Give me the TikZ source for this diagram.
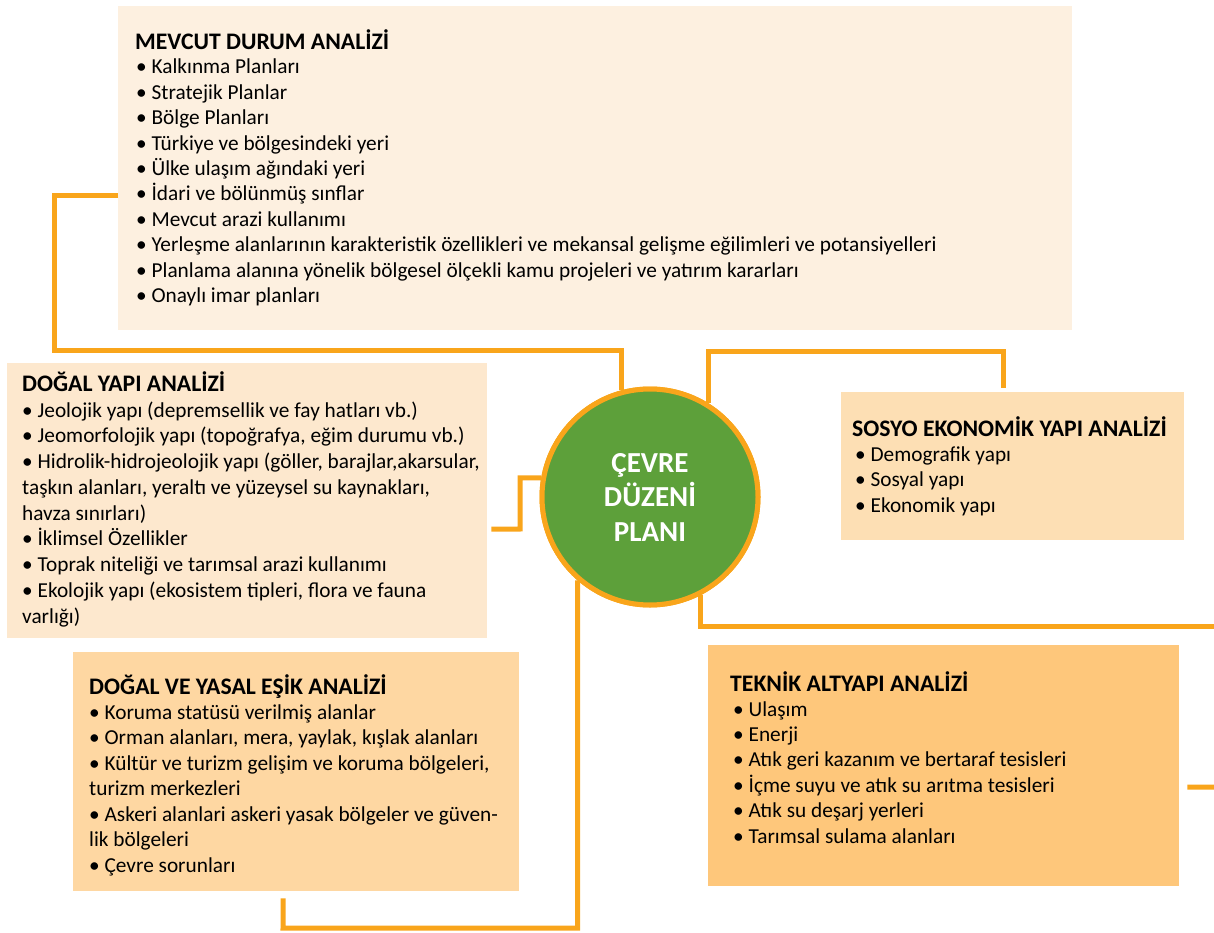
\documentclass[tikz,border=0pt]{standalone}
\usepackage{fontspec}
\setmainfont{Carlito}
\usetikzlibrary{calc}
\definecolor{lineor}{HTML}{F9A51B}
\definecolor{cgreen}{HTML}{5DA03A}
\definecolor{fmevcut}{HTML}{FDF0E0}
\definecolor{fdogal}{HTML}{FDE8CE}
\definecolor{fsosyo}{HTML}{FDDFB4}
\definecolor{fyasal}{HTML}{FED7A2}
\definecolor{fteknik}{HTML}{FEC77B}
\tikzset{
  panel/.style={rectangle, draw=none, inner sep=0pt, anchor=north west},
  conn/.style={draw=lineor, line width=5pt},
  ttl/.style={anchor=base west, inner sep=0pt, font=\fontsize{23.7}{28}\selectfont\bfseries},
  itm/.style={anchor=base west, inner sep=0pt, font=\fontsize{21.3}{25}\selectfont},
  hub/.style={circle, fill=cgreen, draw=lineor, line width=5pt, minimum size=216pt, inner sep=0pt,
    text=white, align=center, font=\fontsize{29}{34.5}\selectfont\bfseries}
}
\begin{document}
\begin{tikzpicture}[x=1pt,y=-1pt]
\useasboundingbox (0,0) rectangle (1214,933);
% panels
\node[panel, fill=fmevcut, minimum width=954pt, minimum height=324pt] (mevcut) at (118,6) {};
\node[panel, fill=fdogal, minimum width=480pt, minimum height=275pt] (dogal) at (7,363) {};
\node[panel, fill=fsosyo, minimum width=343pt, minimum height=148pt] (sosyo) at (841,392) {};
\node[panel, fill=fyasal, minimum width=446pt, minimum height=239pt] (yasal) at (73,652) {};
\node[panel, fill=fteknik, minimum width=471pt, minimum height=241pt] (teknik) at (708,645) {};
% hub
\node[hub] (cdp) at (650,497) {ÇEVRE\\DÜZENİ\\PLANI};
% connectors
\coordinate (redge) at (1214,626);
\coordinate (redge2) at (1214,787);
\draw[conn] ([yshift=-27pt]mevcut.west) -| (54,350) -| (cdp.105);
\draw[conn] (cdp.58) |- (1003,351) -- ([xshift=162pt,yshift=4pt]sosyo.north west);
\draw[conn] (cdp.170) -| (520,529) -- ([xshift=4pt,yshift=-28.5pt]dogal.east);
\draw[conn] (cdp.229) |- (283,928) -- ([xshift=-13pt,yshift=-7pt]yasal.south);
\draw[conn] (cdp.297) |- (redge);
\draw[conn] ([xshift=8pt,yshift=-21.5pt]teknik.east) -- (redge2);
\node[hub] at (cdp) {ÇEVRE\\DÜZENİ\\PLANI};
% texts
\node[ttl] (mt) at (135,50) {MEVCUT DURUM ANALİZİ};
\foreach \t [count=\i from 0] in {
  {• Kalkınma Planları},
  {• Stratejik Planlar},
  {• Bölge Planları},
  {• Türkiye ve bölgesindeki yeri},
  {• Ülke ulaşım ağındaki yeri},
  {• İdari ve bölünmüş sınflar},
  {• Mevcut arazi kullanımı},
  {• Yerleşme alanlarının karakteristik özellikleri ve mekansal gelişme eğilimleri ve potansiyelleri},
  {• Planlama alanına yönelik bölgesel ölçekli kamu projeleri ve yatırım kararları},
  {• Onaylı imar planları}}
  \node[itm] (m\i) at (136,74+25.4*\i) {\t};
\node[ttl] (dt) at (22,391) {DOĞAL YAPI ANALİZİ};
\foreach \t [count=\i from 0] in {
  {• Jeolojik yapı (depremsellik ve fay hatları vb.)},
  {• Jeomorfolojik yapı (topoğrafya, eğim durumu vb.)},
  {• Hidrolik-hidrojeolojik yapı (göller, barajlar,akarsular,},
  {taşkın alanları, yeraltı ve yüzeysel su kaynakları,},
  {havza sınırları)},
  {• İklimsel Özellikler},
  {• Toprak niteliği ve tarımsal arazi kullanımı},
  {• Ekolojik yapı (ekosistem tipleri, flora ve fauna},
  {varlığı)}}
  \node[itm] (d\i) at (22,417+25.75*\i) {\t};
\node[ttl] (st) at (852,436) {SOSYO EKONOMİK YAPI ANALİZİ};
\foreach \t [count=\i from 0] in {
  {• Demografik yapı},
  {• Sosyal yapı},
  {• Ekonomik yapı}}
  \node[itm] (s\i) at (855,461+25.5*\i) {\t};
\node[ttl] (yt) at (89,694) {DOĞAL VE YASAL EŞİK ANALİZİ};
\foreach \t [count=\i from 0] in {
  {• Koruma statüsü verilmiş alanlar},
  {• Orman alanları, mera, yaylak, kışlak alanları},
  {• Kültür ve turizm gelişim ve koruma bölgeleri,},
  {turizm merkezleri},
  {• Askeri alanlari askeri yasak bölgeler ve güven-},
  {lik bölgeleri},
  {• Çevre sorunları}}
  \node[itm] (y\i) at (89,719+25.5*\i) {\t};
\node[ttl] (tt) at (730,691) {TEKNİK ALTYAPI ANALİZİ};
\foreach \t [count=\i from 0] in {
  {• Ulaşım},
  {• Enerji},
  {• Atık geri kazanım ve bertaraf tesisleri},
  {• İçme suyu ve atık su arıtma tesisleri},
  {• Atık su deşarj yerleri},
  {• Tarımsal sulama alanları}}
  \node[itm] (k\i) at (733,716+25.4*\i) {\t};
\end{tikzpicture}
\end{document}
